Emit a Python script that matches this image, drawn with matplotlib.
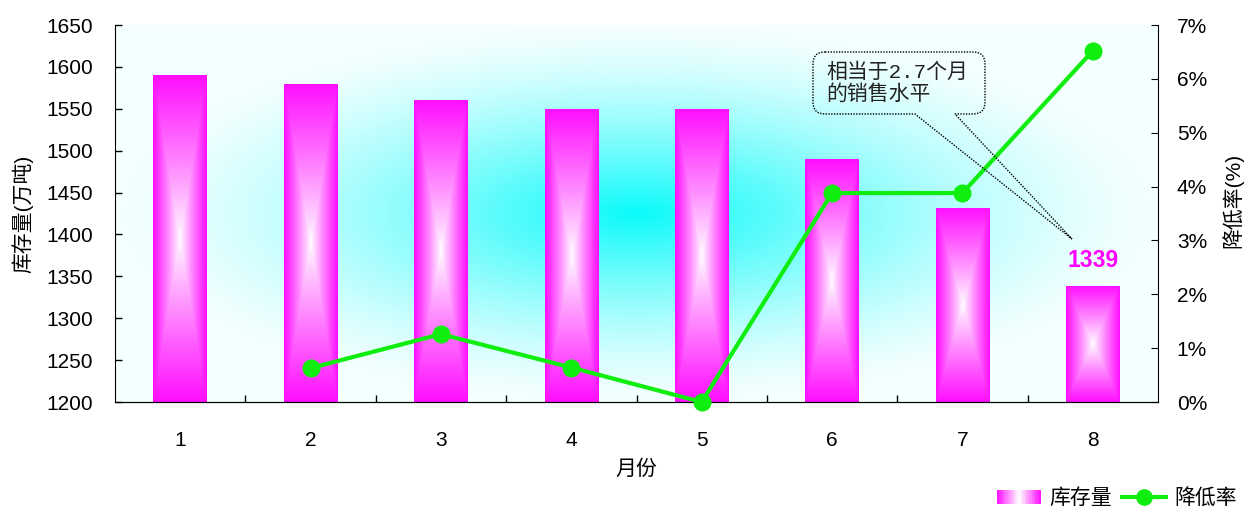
import numpy as np
import matplotlib
matplotlib.use("Agg")
import matplotlib.pyplot as plt
from matplotlib.path import Path
from matplotlib.patches import PathPatch, Rectangle
from matplotlib.lines import Line2D
from matplotlib.legend_handler import HandlerBase
from matplotlib.transforms import Affine2D
from matplotlib.ticker import FuncFormatter, FixedLocator

plt.rcParams['font.family'] = ['Liberation Sans', 'Noto Sans CJK SC']

# ---- data ----
months = [1, 2, 3, 4, 5, 6, 7, 8]
inventory = [1590, 1580, 1561, 1550, 1550, 1490, 1432, 1339]
reduction_pct = [np.nan, 0.63, 1.26, 0.64, 0.0, 3.88, 3.88, 6.52]
y_ticks = [1200, 1250, 1300, 1350, 1400, 1450, 1500, 1550, 1600, 1650]
y2_ticks = [0, 1, 2, 3, 4, 5, 6, 7]
callout_text = "相当于2.7个月\n的销售水平"

W, H = 1244, 509
AX_L, AX_R, AX_T, AX_B = 115, 1158, 25, 402
AW, AH = AX_R - AX_L, AX_B - AX_T
fig = plt.figure(figsize=(W / 100, H / 100), dpi=100)
ax = fig.add_axes([AX_L / W, 1 - AX_B / H, AW / W, AH / H])

# background radial gradient
n = 300
gx, gy = np.meshgrid(np.linspace(-1, 1, n), np.linspace(-1, 1, n))
t = np.clip(np.sqrt(gx ** 2 + gy ** 2), 0, 1)
k = (1 - t) ** 1.4
edge = np.array([244, 255, 255]) / 255
cen = np.array([10, 250, 250]) / 255
bg = edge[None, None, :] * (1 - k[..., None]) + cen[None, None, :] * k[..., None]
ax.imshow(bg, extent=(0, 1, 0, 1), transform=ax.transAxes, aspect='auto',
          zorder=0, interpolation='bilinear')

# bars with rectangular path gradient
bar_w = 0.41
bars = ax.bar(months, inventory, width=bar_w, facecolor='none', edgecolor='none', zorder=2)
bu, bv = np.meshgrid(np.linspace(-1, 1, 60), np.linspace(-1, 1, 200))
bt = np.maximum(np.abs(bu), np.abs(bv))
mag = np.array([255, 15, 255]) / 255
wht = np.array([255, 255, 255]) / 255
bk = bt ** 0.9
bimg = wht[None, None, :] * (1 - bk[..., None]) + mag[None, None, :] * bk[..., None]
for b in bars:
    x0 = b.get_x()
    im = ax.imshow(bimg, extent=(x0, x0 + b.get_width(), y_ticks[0], b.get_height()),
                   aspect='auto', zorder=2, interpolation='bilinear')
    im.set_clip_path(b)

ax.set_xlim(0.5, 8.5)
ax.set_ylim(y_ticks[0], y_ticks[-1])
ax.set_yticks(y_ticks)
ax.set_xticks(months)
ax.xaxis.set_minor_locator(FixedLocator([m + 0.5 for m in months[:-1]]))
ax.tick_params(axis='y', direction='in', length=5, pad=16, labelsize=15, width=1)
ax.tick_params(axis='x', which='major', length=0, pad=21, labelsize=15)
ax.tick_params(axis='x', which='minor', direction='in', length=5, width=1)
ax.spines['top'].set_visible(False)
ax.spines['right'].set_visible(False)

ax.set_ylabel('库存量(万吨)', fontsize=15)
ax.yaxis.set_label_coords((33 - AX_L) / AW, 0.5)
ax.set_xlabel('月份', fontsize=15)
ax.xaxis.set_label_coords(0.5, (AX_B - 459) / AH)

ax.annotate(f"{inventory[-1]}", xy=(months[-1], inventory[-1]), xytext=(0, 10),
            textcoords='offset points', ha='center', va='bottom',
            fontsize=16.5, fontweight='bold', color='#FF00FF', zorder=5)

# line on secondary axis
ax2 = ax.twinx()
green = '#10EE10'
ax2.plot(months, reduction_pct, color=green, lw=3, marker='o', markersize=12,
         markerfacecolor=green, markeredgecolor=green, clip_on=False, zorder=5)
ax2.set_ylim(y2_ticks[0], y2_ticks[-1])
ax2.set_yticks(y2_ticks)
ax2.yaxis.set_major_formatter(FuncFormatter(lambda v, p: f"{v:.0f}%"))
ax2.tick_params(axis='y', direction='in', length=5, pad=13.5, labelsize=15)
ax2.spines['top'].set_visible(False)
ax2.spines['left'].set_visible(False)
ax2.set_ylabel('降低率(%)', fontsize=15, rotation=90)
ax2.yaxis.set_label_coords((1222 - AX_L) / AW, (AX_B - 200) / AH)

# callout (pixel coords, top-left origin)
px = Affine2D().scale(1 / W, -1 / H).translate(0, 1) + fig.transFigure
L, R, T, B, r = 813, 985, 52, 114, 12
tip = (1072, 239)
verts = [(L + r, T), (R - r, T), (R, T), (R, T + r), (R, B - r), (R, B), (R - r, B),
         (955, B), tip, (915, B), (L + r, B), (L, B), (L, B - r), (L, T + r), (L, T), (L + r, T)]
codes = [Path.MOVETO, Path.LINETO, Path.CURVE3, Path.CURVE3, Path.LINETO, Path.CURVE3, Path.CURVE3,
         Path.LINETO, Path.LINETO, Path.LINETO, Path.LINETO, Path.CURVE3, Path.CURVE3, Path.LINETO,
         Path.CURVE3, Path.CURVE3]
fig.add_artist(PathPatch(Path(verts, codes), facecolor='none', edgecolor='black',
                         lw=1.0, ls=(0, (1, 1)), transform=px, zorder=6))
fig.text(826 / W, 1 - 83 / H, callout_text, fontsize=15, ha='left', va='center',
         linespacing=1.12, family=['Liberation Mono', 'Noto Sans CJK SC'], color='#222222',
         zorder=7)


# legend
class GradHandler(HandlerBase):
    def create_artists(self, legend, orig, xd, yd, width, height, fontsize, trans):
        arts = []
        nn = 24
        h = height * 0.95
        for i in range(nn):
            u = abs((i + 0.5) / nn * 2 - 1)
            c = wht * (1 - u) + mag * u
            rct = Rectangle((-xd + width * i / nn, -yd + (height - h) / 2), width / nn + 0.3, h,
                            facecolor=c, edgecolor='none', transform=trans)
            arts.append(rct)
        return arts


bar_handle = Rectangle((0, 0), 1, 1)
line_handle = Line2D([], [], color=green, lw=3, marker='o', markersize=11,
                     markerfacecolor=green, markeredgecolor=green)
fig.legend([bar_handle, line_handle], ['库存量', '降低率'], ncol=2,
           handler_map={Rectangle: GradHandler()},
           loc='center right', bbox_to_anchor=(1237 / W, 1 - 498 / H),
           frameon=False, fontsize=15, handlelength=2.1, handletextpad=0.4,
           columnspacing=0.5, borderpad=0, borderaxespad=0)

fig.savefig('out.png', dpi=100)
